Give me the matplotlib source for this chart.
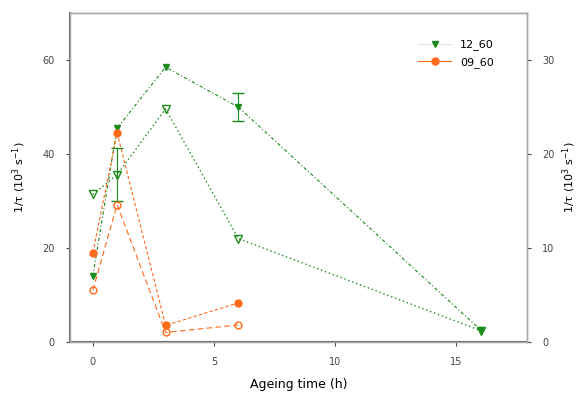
import matplotlib
matplotlib.use("Agg")
import matplotlib.pyplot as plt

time = [0, 1, 3, 6, 16]
time_09 = [0, 1, 3, 6]

# left axis (filled markers)
g_left = [14, 45.5, 58.5, 50, 2.5]
o_left = [19, 44.5, 3.5, 8.3]
# error bars (only where visible)
g_left_err_x, g_left_err_y, g_left_err = [6], [50], [3]

# right axis (open markers)
g_right = [15.7, 17.8, 24.8, 11, 1.2]
o_right = [5.5, 14.6, 1.0, 1.8]
g_right_err_x, g_right_err_y, g_right_err = [1], [17.8], [2.8]

green = "#1a8c1a"
orange = "#ff6a1a"
label = "1/\u03c4 (10$^3$ s$^{-1}$)"

fig = plt.figure(figsize=(5.77, 3.98), dpi=100)
ax = fig.add_axes([0.121, 0.141, 0.792, 0.826])
ax2 = ax.twinx()

ax.plot(time, g_left, color=green, marker="v", ms=5,
        ls=(0, (3, 2, 1, 2)), lw=0.8, label="12_60")
ax.errorbar(g_left_err_x, g_left_err_y, yerr=g_left_err, color=green, ls="none",
            capsize=4, elinewidth=0.8)
ax.plot(time_09, o_left, color=orange, marker="o", ms=5,
        ls=(0, (3, 2)), lw=0.8, label="09_60")

ax2.plot(time, g_right, color=green, marker="v", ms=6,
         mfc="none", ls=(0, (1, 2)), lw=1.0)
ax2.errorbar(g_right_err_x, g_right_err_y, yerr=g_right_err, color=green, ls="none",
             capsize=4, elinewidth=0.8)
ax2.plot(time_09, o_right, color=orange, marker="o", ms=5, mfc="none",
         ls=(0, (5, 3)), lw=0.8)

ax.set_xlim(-0.95, 17.9)
ax.set_ylim(0, 70)
ax2.set_ylim(0, 35)
ax.set_xticks([0, 5, 10, 15])
ax.set_yticks([0, 20, 40, 60])
ax2.set_yticks([0, 10, 20, 30])

ax.set_xlabel("Ageing time (h)", fontsize=9, labelpad=8)
ax.set_ylabel(label, fontsize=8, labelpad=10)
ax2.set_ylabel(label, fontsize=8, labelpad=4)
for a in (ax, ax2):
    a.tick_params(labelsize=7, length=3, width=0.8, colors="#444444", pad=8)
    for s in a.spines.values():
        s.set_color("#aaaaaa")
        s.set_linewidth(1)
ax.spines["left"].set_color("#666666")
ax.spines["left"].set_linewidth(1.5)
ax.spines["bottom"].set_color("#666666")
ax.spines["bottom"].set_linewidth(1.5)

leg = ax.legend(loc="upper right", bbox_to_anchor=(0.95, 0.95), frameon=False,
                fontsize=8, handlelength=3, labelspacing=0.6)
leg.get_lines()[0].set_linestyle("-")
leg.get_lines()[0].set_color("#d5ecd5")
leg.get_lines()[0].set_markerfacecolor(green)
leg.get_lines()[0].set_markeredgecolor(green)
leg.get_lines()[1].set_linestyle("-")

fig.savefig("out.png", dpi=100)
